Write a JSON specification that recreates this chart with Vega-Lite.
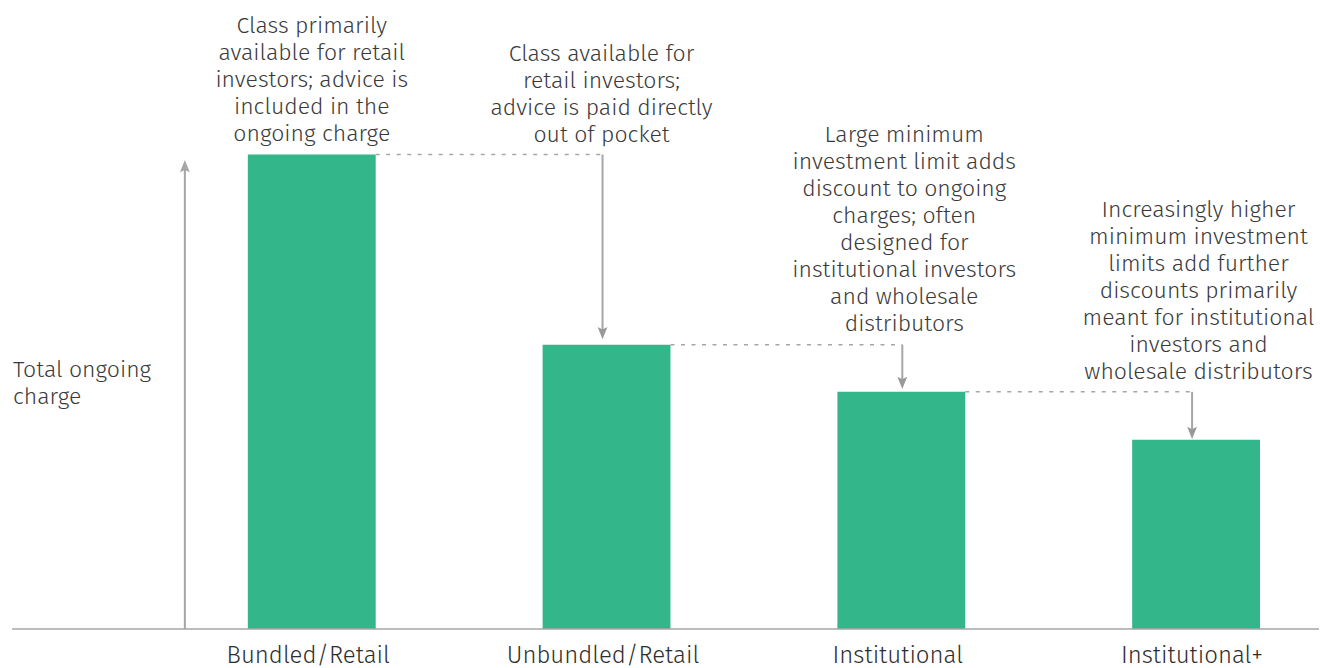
{
  "$schema": "https://vega.github.io/schema/vega-lite/v6.json",
  "width": 1320,
  "height": 668,
  "autosize": {"type": "fit", "contains": "padding"},
  "padding": 0,
  "background": "white",
  "config": {"view": {"stroke": null}},
  "datasets": {
    "bars": [
      {"cat": "Bundled/Retail", "x": 0.7831, "x2": 1.2169, "y": 0, "y2": 100},
      {"cat": "Unbundled/Retail", "x": 1.7831, "x2": 2.2169, "y": 0, "y2": 59.9},
      {"cat": "Institutional", "x": 2.7831, "x2": 3.2169, "y": 0, "y2": 50},
      {"cat": "Institutional+", "x": 3.7831, "x2": 4.2169, "y": 0, "y2": 39.9}
    ],
    "baseline": [{"x": -0.0169, "x2": 4.417, "y": 0}],
    "vaxis": [{"x": 0.5695, "y": 0, "y2": 97.0}],
    "vhead": [{"x": 0.5695, "y": 98.8}],
    "dashes": [
      {"x": 1.2169, "x2": 1.9864, "y": 100},
      {"x": 2.2169, "x2": 3.0034, "y": 59.9},
      {"x": 3.2169, "x2": 3.9864, "y": 50}
    ],
    "shafts": [
      {"x": 1.9864, "y": 100, "y2": 62.5},
      {"x": 3.0034, "y": 59.9, "y2": 52},
      {"x": 3.9864, "y": 50, "y2": 41.5}
    ],
    "heads": [
      {"x": 1.9864, "y": 61.1},
      {"x": 3.0034, "y": 50.6},
      {"x": 3.9864, "y": 40.1}
    ],
    "notes": [
      {"x": 1.0, "y": 125.6, "text": "Class primarily\navailable for retail\ninvestors; advice is\nincluded in the\nongoing charge"},
      {"x": 1.983, "y": 119.7, "text": "Class available for\nretail investors;\nadvice is paid directly\nout of pocket"},
      {"x": 3.01, "y": 102.7, "text": "Large minimum\ninvestment limit adds\ndiscount to ongoing\ncharges; often\ndesigned for\ninstitutional investors\nand wholesale\ndistributors"},
      {"x": 4.008, "y": 86.94, "text": "Increasingly higher\nminimum investment\nlimits add further\ndiscounts primarily\nmeant for institutional\ninvestors and\nwholesale distributors"}
    ],
    "labels": [
      {"x": 0.988, "y": -7.14, "text": "Bundled/Retail"},
      {"x": 1.988, "y": -7.14, "text": "Unbundled/Retail"},
      {"x": 2.988, "y": -7.14, "text": "Institutional"},
      {"x": 3.986, "y": -7.14, "text": "Institutional+"}
    ],
    "ylabel": [{"x": -0.0136, "y": 53.15, "text": "Total ongoing\ncharge"}]
  },
  "encoding": {
    "x": {"field": "x", "type": "quantitative", "scale": {"domain": [-0.05763, 4.41695], "nice": false, "zero": false}, "axis": null},
    "y": {"field": "y", "type": "quantitative", "scale": {"domain": [-7.14, 132.56], "nice": false, "zero": false}, "axis": null}
  },
  "layer": [
    {
      "data": {"name": "bars"},
      "mark": {"type": "rect", "color": "#33b68a"},
      "encoding": {"x2": {"field": "x2"}, "y2": {"field": "y2"}}
    },
    {
      "data": {"name": "baseline"},
      "mark": {"type": "rule", "color": "#a6a6a6", "strokeWidth": 1.5},
      "encoding": {"x2": {"field": "x2"}}
    },
    {
      "data": {"name": "vaxis"},
      "mark": {"type": "rule", "color": "#a6a6a6", "strokeWidth": 2},
      "encoding": {"y2": {"field": "y2"}}
    },
    {
      "data": {"name": "vhead"},
      "mark": {"type": "point", "shape": "M-0.8,1L0,-1L0.8,1L0,0.6Z", "size": 150, "filled": true, "opacity": 1, "color": "#a6a6a6", "yOffset": 6}
    },
    {
      "data": {"name": "dashes"},
      "mark": {"type": "rule", "color": "#a6a6a6", "strokeWidth": 1.5, "strokeDash": [4, 6.5]},
      "encoding": {"x2": {"field": "x2"}}
    },
    {
      "data": {"name": "shafts"},
      "mark": {"type": "rule", "color": "#a6a6a6", "strokeWidth": 2},
      "encoding": {"y2": {"field": "y2"}}
    },
    {
      "data": {"name": "heads"},
      "mark": {"type": "point", "shape": "M-0.8,-1L0,-0.6L0.8,-1L0,1Z", "size": 150, "filled": true, "opacity": 1, "color": "#999999", "yOffset": -6}
    },
    {
      "data": {"name": "notes"},
      "mark": {"type": "text", "align": "center", "baseline": "alphabetic", "lineBreak": "\n", "lineHeight": 27, "fontSize": 23, "fontWeight": 300, "font": "Fira Sans, Open Sans, sans-serif", "color": "#3a3a3a"},
      "encoding": {"text": {"field": "text"}}
    },
    {
      "data": {"name": "labels"},
      "mark": {"type": "text", "align": "center", "baseline": "alphabetic", "fontSize": 24, "fontWeight": 300, "font": "Fira Sans, Open Sans, sans-serif", "color": "#2e2e2e"},
      "encoding": {"text": {"field": "text"}}
    },
    {
      "data": {"name": "ylabel"},
      "mark": {"type": "text", "align": "left", "baseline": "alphabetic", "lineBreak": "\n", "lineHeight": 27, "fontSize": 23, "fontWeight": 300, "font": "Fira Sans, Open Sans, sans-serif", "color": "#3a3a3a"},
      "encoding": {"text": {"field": "text"}}
    }
  ]
}
